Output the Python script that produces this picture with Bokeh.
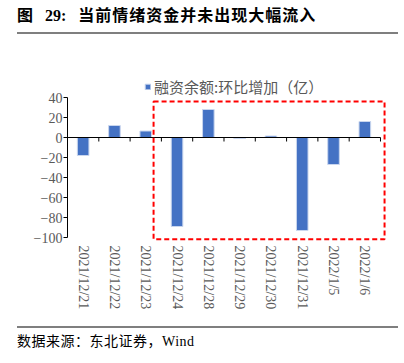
from bokeh.plotting import figure
from bokeh.models import (Range1d, FixedTicker, ColumnDataSource, BoxAnnotation,
                          Legend, LegendItem, Div)
from bokeh.layouts import column
from bokeh.embed import file_html
from bokeh.resources import INLINE

categories = ["2021/12/21", "2021/12/22", "2021/12/23", "2021/12/24", "2021/12/28",
              "2021/12/29", "2021/12/30", "2021/12/31", "2022/1/5", "2022/1/6"]
values = [-18, 12, 6.5, -89, 28, -1, 1.5, -93, -27, 16]
y_ticks = [40, 20, 0, -20, -40, -60, -80, -100]
series_name = "融资余额:环比增加（亿）"
title_text = "当前情绪资金并未出现大幅流入"
source_text = "数据来源：东北证券，Wind"

n = len(categories)
xs = [i + 0.5 for i in range(n)]
src = ColumnDataSource(dict(x=xs, top=values, cat=categories))

BAR = "#4472C4"
GRAY = "#595959"
RULE = "#7f7f7f"
SERIF = "Liberation Serif"

p = figure(width=396, height=292, output_backend="svg", toolbar_location=None,
           x_range=Range1d(0, n + 0.32), y_range=Range1d(-105, 67),
           min_border_left=67, min_border_right=6, min_border_top=36,
           min_border_bottom=84, margin=0)
p.outline_line_color = None
p.grid.visible = False
p.background_fill_color = "white"
p.border_fill_color = "white"

r = p.vbar(x="x", top="top", bottom=0, width=0.37, source=src,
           fill_color=BAR, line_color="#c9d6ee", line_width=1)

# zero line with category boundary ticks
p.segment(x0=[0], y0=[0], x1=[n], y1=[0], line_color="black", line_width=1)
p.segment(x0=list(range(1, n + 1)), y0=[0] * n, x1=list(range(1, n + 1)), y1=[-4] * n,
          line_color="black", line_width=1)

# y axis
yax = p.yaxis[0]
yax.ticker = FixedTicker(ticks=y_ticks)
yax.bounds = (min(y_ticks), max(y_ticks))
yax.axis_line_color = "black"
yax.major_tick_line_color = "black"
yax.major_tick_out = 4
yax.major_tick_in = 0
yax.minor_tick_line_color = None
yax.major_label_standoff = 1
yax.major_label_text_font = SERIF
yax.major_label_text_font_size = "14px"
yax.major_label_text_color = GRAY

# x axis (labels only)
xax = p.xaxis[0]
xax.ticker = FixedTicker(ticks=xs)
xax.major_label_overrides = {x: c for x, c in zip(xs, categories)}
xax.major_label_orientation = "vertical"
xax.axis_line_color = None
xax.major_tick_line_color = None
xax.minor_tick_line_color = None
xax.major_tick_out = 0
xax.major_label_standoff = 3
xax.major_label_text_font = SERIF
xax.major_label_text_font_size = "14px"
xax.major_label_text_color = GRAY

# highlight box
p.add_layout(BoxAnnotation(left=3 - 0.25, right=n + 0.13, top=36, bottom=-101.7,
                           fill_alpha=0, line_color="#FF0000", line_alpha=1.0,
                           line_width=2, line_dash="5 3"))

legend = Legend(items=[LegendItem(label=series_name, renderers=[r])],
                location=(77, 145), padding=0, margin=0, spacing=0,
                glyph_width=7, glyph_height=7, label_height=18, label_standoff=3,
                label_text_font="Noto Sans CJK SC", label_text_font_size="15px",
                label_text_color=GRAY, border_line_color=None,
                background_fill_alpha=0)
p.add_layout(legend)

title_div = Div(width=396, height=32, margin=0, text=(
    '<div style="padding-left:17px;padding-top:8px;'
    'font-family:\'Liberation Serif\',\'Noto Sans CJK SC\';font-weight:bold;font-size:16px;'
    'line-height:16px;color:#000;white-space:nowrap;">'
    '<span>图</span><span style="margin-left:12px">29:</span>'
    '<span style="margin-left:12px;letter-spacing:1px">' + title_text + '</span></div>'))
rule1 = Div(text="", width=381, height=2, margin=(0, 0, 0, 17),
            styles={"background-color": RULE})
rule2 = Div(text="", width=381, height=2, margin=(0, 0, 0, 17),
            styles={"background-color": RULE})
source_div = Div(width=396, height=30, margin=0, text=(
    '<div style="padding-left:17px;padding-top:6px;'
    'font-family:\'Liberation Serif\',\'Noto Sans CJK SC\';font-size:14px;'
    'line-height:16px;color:#000;white-space:nowrap;letter-spacing:0.5px;">'
    + source_text + '</div>'))

layout = column(title_div, rule1, p, rule2, source_div, spacing=0)
open("out.html", "w").write(file_html(layout, INLINE))
